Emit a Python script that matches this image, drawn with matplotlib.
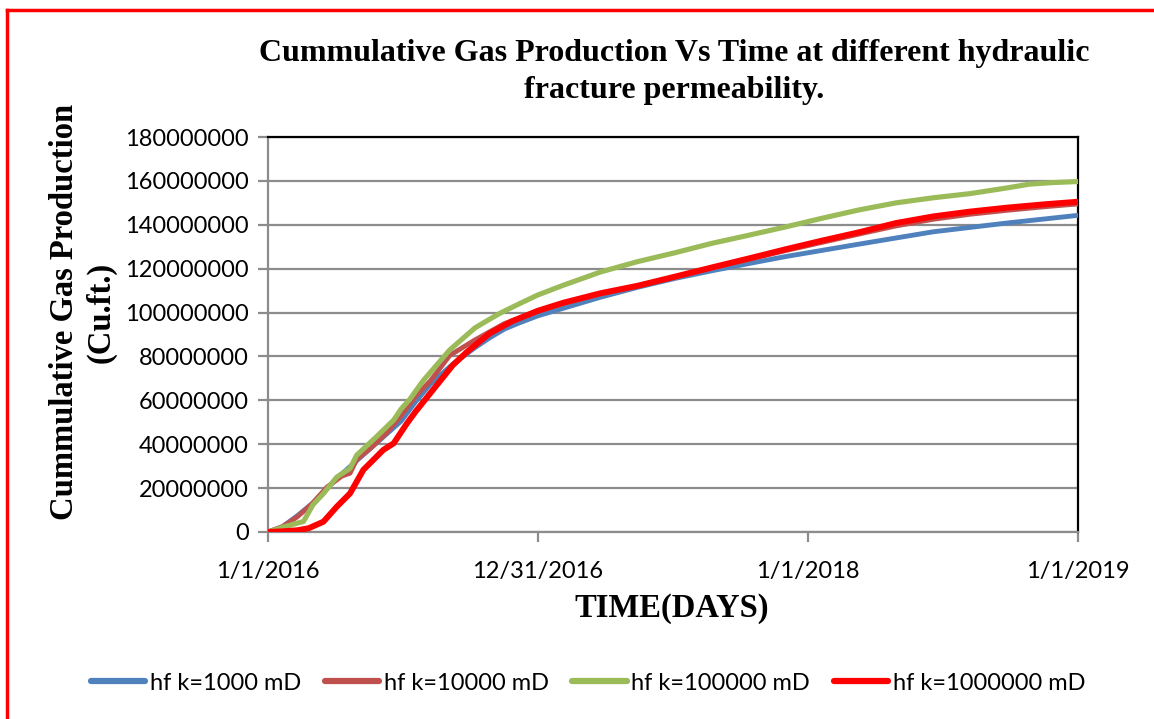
import numpy as np
import matplotlib
matplotlib.use("Agg")
import matplotlib.pyplot as plt
import matplotlib.dates as mdates
from matplotlib.lines import Line2D

# ---------------- data (millions of cu.ft. vs days since 1/1/2016) ----------------
start_date = np.datetime64("2016-01-01")

days_blue = [0, 20, 40, 60, 80, 100, 120, 140, 160, 180, 200, 220, 250, 280, 300, 320, 340,
             365, 400, 450, 500, 550, 600, 650, 700, 800, 900, 1000, 1096]
blue = [0, 2.5, 7.5, 13, 20, 26.5, 32.5, 38.5, 44.5, 50.5, 59.5, 67.5, 76.5, 84, 88.5, 92.5,
        95.3, 98.5, 102, 107, 111.5, 115.5, 119, 122.3, 125.5, 131.2, 136.8, 140.8, 144.3]

days_brown = [0, 20, 40, 60, 80, 100, 111, 120, 140, 160, 180, 200, 220, 246, 280, 320, 365,
              400, 450, 500, 550, 600, 650, 700, 750, 800, 850, 900, 950, 1000, 1050, 1096]
brown = [0, 2.5, 7, 13, 20.5, 25.5, 26.8, 33, 38.5, 45, 53, 62, 69, 80.5, 87.5, 95, 100.5,
         104.2, 108.5, 112, 116, 120.2, 124.2, 128.2, 132, 135.8, 139.5, 142.5, 144.8, 146.6,
         148.2, 149.5]

days_green = [0, 21, 48, 61, 75, 93, 111, 120, 147, 170, 180, 192, 210, 246, 280, 300, 314,
              340, 365, 400, 450, 500, 550, 600, 650, 700, 750, 800, 850, 900, 950, 1000,
              1030, 1060, 1096]
green = [0, 2.3, 4.8, 12.5, 17.5, 25, 29, 35, 43.5, 51, 56, 60.5, 69, 83, 93, 97, 99.7,
         104, 108, 112.5, 118.5, 123.2, 127.2, 131.5, 135.2, 139, 143, 146.8, 150, 152.3,
         154.2, 156.8, 158.5, 159.2, 159.7]

days_red = [0, 20, 40, 55, 75, 93, 111, 129, 156, 170, 188, 200, 219, 250, 269, 300, 330,
            365, 400, 450, 500, 550, 600, 650, 700, 750, 800, 850, 900, 950, 1000, 1050, 1096]
red = [0, 0.3, 0.8, 1.7, 4.7, 11.5, 17.6, 28.3, 37.4, 40.4, 49.5, 55, 63, 76, 82, 90.5, 96,
       100.8, 104.5, 108.8, 112.2, 116.3, 120.5, 124.6, 128.8, 132.8, 136.6, 140.8, 143.8,
       146, 147.8, 149.3, 150.5]

series_labels = ["hf k=1000 mD", "hf k=10000 mD", "hf k=100000 mD", "hf k=1000000 mD"]
series_colors = ["#4F81BD", "#C0504D", "#9BBB59", "#FF0000"]

tick_dates = ["2016-01-01", "2016-12-31", "2018-01-01", "2019-01-01"]
tick_labels = ["1/1/2016", "12/31/2016", "1/1/2018", "1/1/2019"]
y_ticks = [0, 20000000, 40000000, 60000000, 80000000, 100000000, 120000000,
           140000000, 160000000, 180000000]

# ---------------- figure ----------------
W, H = 1154, 719
fig = plt.figure(figsize=(W / 100, H / 100), dpi=100)
ax = fig.add_axes([268 / W, 1 - 532 / H, (1078 - 268) / W, (532 - 137) / H])

def to_dates(d):
    return start_date + np.array(d).astype("timedelta64[D]")

all_days = [days_blue, days_brown, days_green, days_red]
all_vals = [blue, brown, green, red]
widths = [3.5, 3.5, 3.7, 4.3]
for d, v, c, lab, lw in zip(all_days, all_vals, series_colors, series_labels, widths):
    ax.plot(to_dates(d), np.array(v) * 1e6, color=c, lw=lw, label=lab,
            solid_capstyle="round", solid_joinstyle="round", zorder=3)

ax.set_ylim(0, 180000000)
ax.set_xlim(np.datetime64("2016-01-01"), np.datetime64("2019-01-01"))
ax.set_yticks(y_ticks)
ax.set_yticklabels([str(v) for v in y_ticks])
ax.set_xticks([mdates.date2num(np.datetime64(t)) for t in tick_dates])
ax.set_xticklabels(tick_labels)

grid_col = "#8C8C8C"
ax.yaxis.grid(True, color=grid_col, lw=1.6, zorder=1)
ax.set_axisbelow(True)
for s in ["left", "bottom"]:
    ax.spines[s].set_color(grid_col)
    ax.spines[s].set_linewidth(1.6)
for s in ["top", "right"]:
    ax.spines[s].set_color("black")
    ax.spines[s].set_linewidth(1.6)
ax.tick_params(axis="both", colors=grid_col, width=1.6, length=7, labelcolor="black",
               labelsize=17)
ax.tick_params(axis="y", pad=7)
ax.tick_params(axis="x", pad=14)
for t in ax.get_xticklabels() + ax.get_yticklabels():
    t.set_fontfamily("Lato")

serif = "Liberation Serif"
fig.text(674 / W, 1 - 72 / H,
         "Cummulative Gas Production Vs Time at different hydraulic\nfracture permeability.",
         ha="center", va="center", fontsize=23, fontweight="bold", family=serif,
         linespacing=1.4)
fig.text(83 / W, 1 - 312 / H, "Cummulative Gas Production\n(Cu.ft.)",
         ha="center", va="center", rotation=90, fontsize=23.5, fontweight="bold",
         family=serif, linespacing=1.2)
fig.text(672 / W, 1 - 608 / H, "TIME(DAYS)", ha="center", va="center",
         fontsize=23.5, fontweight="bold", family=serif)

# legend
handles = [Line2D([0], [0], color=c, lw=4.5, solid_capstyle="round") for c in series_colors]
fig.legend(handles, series_labels, loc="center", bbox_to_anchor=(588 / W, 1 - 683 / H),
           ncol=4, frameon=False, prop={"family": "Lato", "size": 17},
           handlelength=2.3, handletextpad=0.2, columnspacing=1.0)

# red frame
fig.add_artist(Line2D([7 / W, 7 / W], [0, 1 - 10 / H], transform=fig.transFigure,
                      color="#FF0000", lw=2.5))
fig.add_artist(Line2D([7 / W, 1], [1 - 10 / H, 1 - 10 / H], transform=fig.transFigure,
                      color="#FF0000", lw=2.5))

fig.savefig("out.png", dpi=100)
